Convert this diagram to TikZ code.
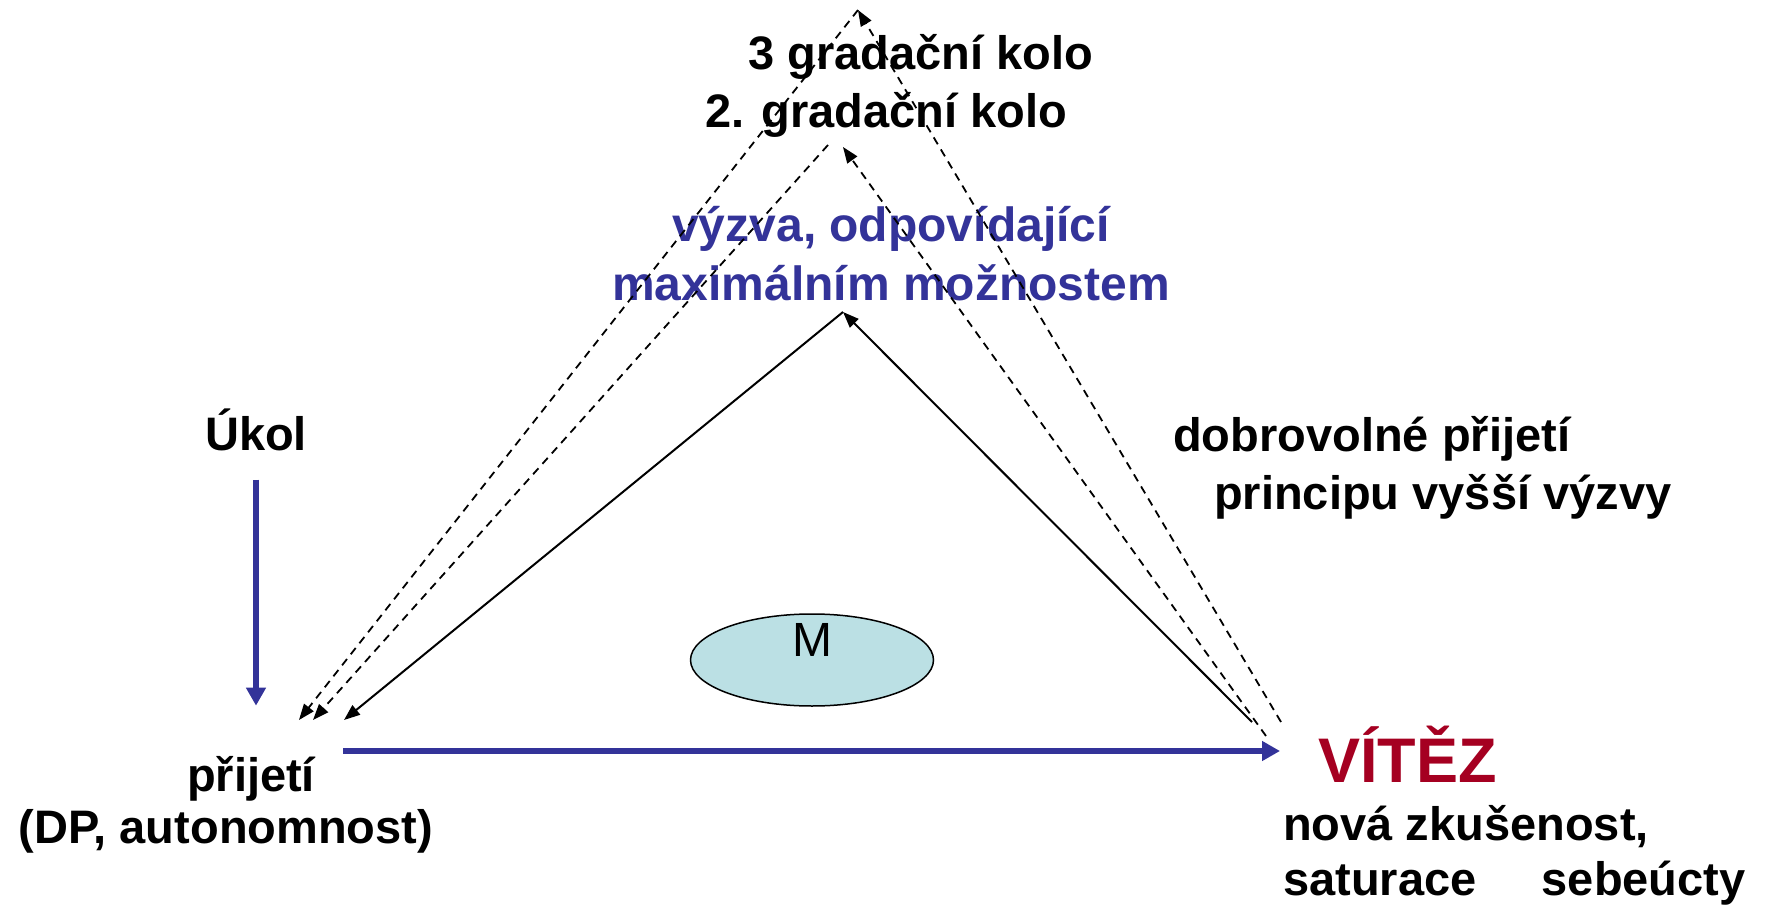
\documentclass[tikz,border=0pt]{standalone}
\usepackage{fontspec}
\setmainfont{Liberation Sans}
\usetikzlibrary{arrows.meta, shapes.geometric}
\definecolor{navy}{RGB}{51,51,153}
\definecolor{winered}{RGB}{165,0,33}
\definecolor{paleteal}{RGB}{187,224,228}

\begin{document}
\begin{tikzpicture}[x=1pt, y=-1pt,
    txt/.style={inner sep=0pt, font=\bfseries\fontsize{47}{58}\selectfont},
    solidarr/.style={-{Triangle[length=16pt, width=12pt]}, line width=2pt},
    dasharr/.style={solidarr, line width=1.8pt, dash pattern=on 8pt off 6pt},
    bluearr/.style={-{Triangle[length=18pt, width=19pt]}, navy, line width=6pt}]
  \useasboundingbox (0,0) rectangle (1767,909);
  % Labels
  \node[txt, anchor=base west] (grad3) at (748,70) {3 gradační kolo};
  \node[txt, anchor=base west] (grad2) at (705,128) {2. gradační kolo};
  \node[txt, navy, font=\bfseries\fontsize{48}{59}\selectfont, align=center] (vyzva) at (891,254)
    {výzva, odpovídající\\maximálním možnostem};
  \node[txt, anchor=base] (ukol) at (256,450) {Úkol};
  \node[txt, align=left, anchor=base west] (dobro) at (1173,509)
    {dobrovolné přijetí\\\hspace*{41pt}principu vyšší výzvy};
  \node[txt, font=\bfseries\fontsize{47}{52}\selectfont, align=center, anchor=base] (prijeti) at (226,843)
    {\hspace*{50pt}přijetí\\(DP, autonomnost)};
  \node[txt, winered, font=\bfseries\fontsize{63}{70}\selectfont, anchor=base west] (vitez) at (1318,782) {VÍTĚZ};
  \node[txt, font=\bfseries\fontsize{47}{55}\selectfont, align=left, anchor=base west] (zkus) at (1283,895)
    {nová zkušenost,\\saturace~~~~~sebeúcty};
  % Ellipse
  \node[ellipse, draw, line width=1.5pt, fill=paleteal, minimum width=243pt, minimum height=92pt, inner sep=0pt] (mem) at (812,660) {};
  \node[inner sep=0pt, font=\fontsize{48}{48}\selectfont] (mlab) at ([yshift=20pt]mem.center) {M};
  % Corners of the triangles
  \coordinate (topC) at (858,10);
  \coordinate (topB) at (843,147);
  \coordinate (topBl) at (828,145);
  \coordinate (topA) at (843,312);
  \coordinate (leftA) at (344,720);
  \coordinate (leftB) at (313,720);
  \coordinate (leftC) at (299,720);
  \coordinate (rightA) at (1252,722);
  \coordinate (rightB) at (1266,736);
  \coordinate (rightC) at (1281,722);
  \coordinate (accStart) at (343,751);
  \coordinate (accEnd) at (1280,751);
  % Solid triangle
  \draw[solidarr] (topA) -- (leftA);
  \draw[solidarr] (rightA) -- (topA);
  % Gradation rounds
  \draw[dasharr] (topBl) -- (leftB);
  \draw[dasharr] (rightB) -- (topB);
  \draw[dasharr] (topC) -- (leftC);
  \draw[dasharr] (rightC) -- (topC);
  % Blue arrows
  \draw[bluearr] ([yshift=-29pt]ukol.south) -- ([yshift=-255pt]ukol.south);
  \draw[bluearr] (accStart) -- (accEnd);
\end{tikzpicture}
\end{document}
